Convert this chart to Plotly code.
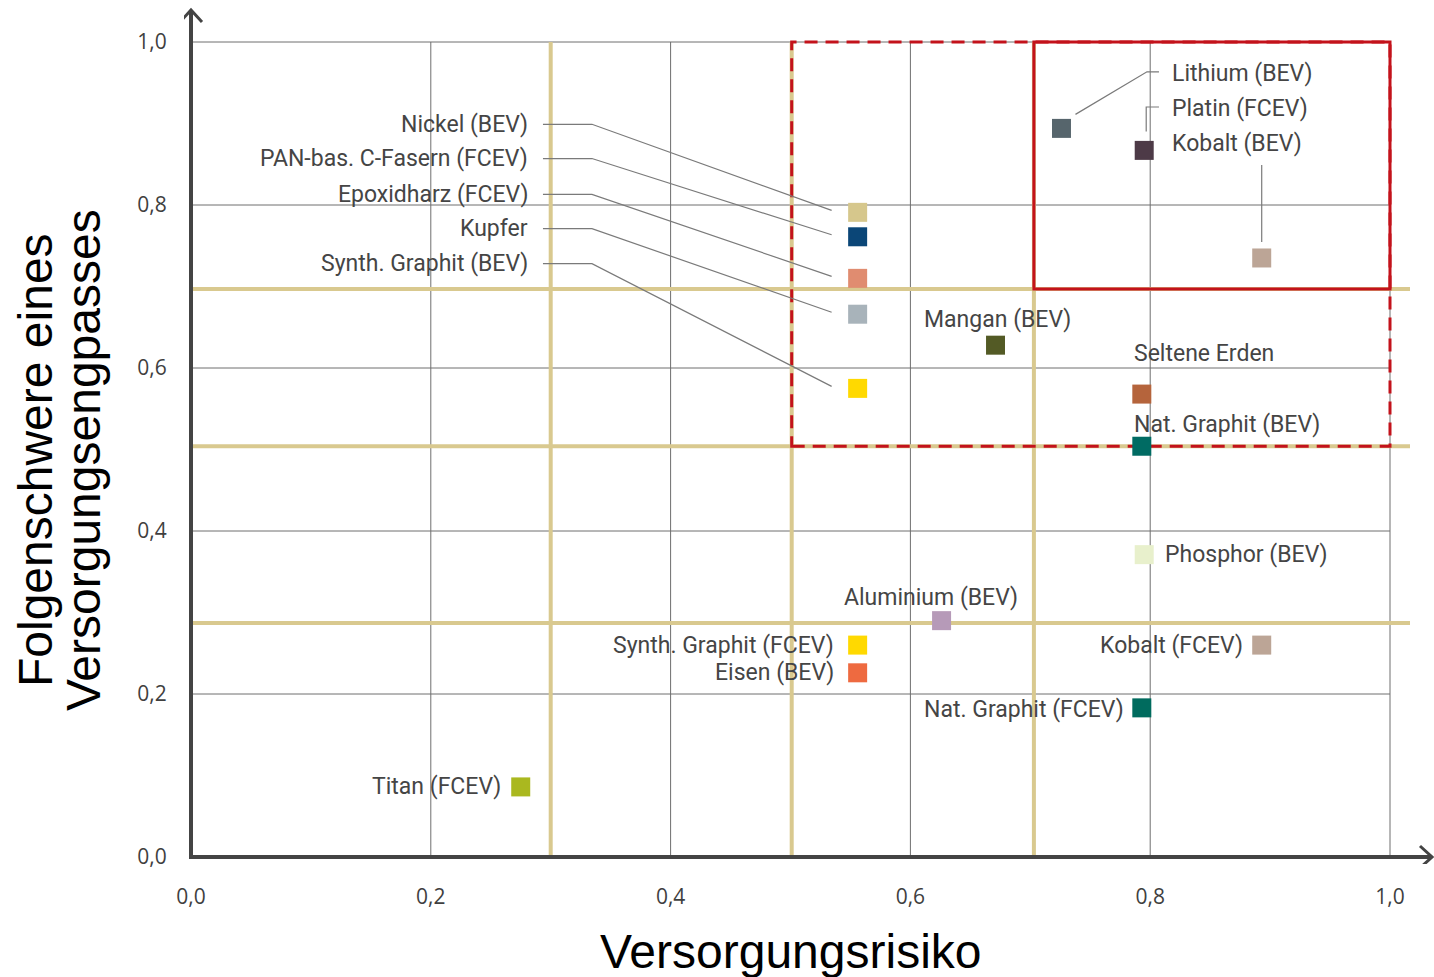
import plotly.graph_objects as go

# ---------------- data ----------------
materials = [
    "Lithium (BEV)", "Platin (FCEV)", "Kobalt (BEV)",
    "Nickel (BEV)", "PAN-bas. C-Fasern (FCEV)", "Epoxidharz (FCEV)", "Kupfer", "Synth. Graphit (BEV)",
    "Mangan (BEV)", "Seltene Erden", "Nat. Graphit (BEV)", "Phosphor (BEV)", "Aluminium (BEV)",
    "Synth. Graphit (FCEV)", "Eisen (BEV)", "Kobalt (FCEV)", "Nat. Graphit (FCEV)", "Titan (FCEV)",
]
versorgungsrisiko = [0.726, 0.795, 0.893,
                     0.556, 0.556, 0.556, 0.556, 0.556,
                     0.671, 0.793, 0.793, 0.795, 0.626,
                     0.556, 0.556, 0.893, 0.793, 0.275]
folgenschwere = [0.894, 0.867, 0.735,
                 0.791, 0.761, 0.710, 0.666, 0.575,
                 0.628, 0.568, 0.504, 0.371, 0.290,
                 0.260, 0.226, 0.260, 0.183, 0.086]
colors = ["#56656c", "#4d3a47", "#bca596",
          "#d6c78c", "#0b4677", "#e08c70", "#a8b3ba", "#ffd900",
          "#535a25", "#b5643c", "#006b63", "#e8f0cc", "#b69ab8",
          "#ffd900", "#ee6a40", "#bca596", "#006b5e", "#aab81f"]

tick_values = [0.0, 0.2, 0.4, 0.6, 0.8, 1.0]
tick_labels = ["0,0", "0,2", "0,4", "0,6", "0,8", "1,0"]
threshold_x = [0.3, 0.501, 0.703]
threshold_y = [0.287, 0.504, 0.697]
critical_zone = [0.501, 0.504, 1.0, 1.0]
high_critical_zone = [0.703, 0.697, 1.0, 1.0]

x_title = "Versorgungsrisiko"
y_title_lines = ["Folgenschwere eines", "Versorgungsengpasses"]

# ---------------- layout geometry ----------------
W, H = 1434, 977
X0PX, XS = 191, 1199      # pixel of x=0, pixels per unit
Y0PX, YS = 857, 815       # pixel of y=0, pixels per unit
PL, PR, PT, PB = 184, 1434, 4, 864
xmin, xmax = (PL - X0PX) / XS, (PR - X0PX) / XS
ymin, ymax = (Y0PX - PB) / YS, (Y0PX - PT) / YS


def dx(px):
    return px / XS


def dy(px):
    return px / YS


def paper_x(px):
    return (px - PL) / (PR - PL)


def paper_y(py):
    return (PB - py) / (PB - PT)


idx = {m: i for i, m in enumerate(materials)}

# label placement (layout only)
left_stack = ["Nickel (BEV)", "PAN-bas. C-Fasern (FCEV)", "Epoxidharz (FCEV)", "Kupfer", "Synth. Graphit (BEV)"]
left_stack_y = [0.899, 0.857, 0.813, 0.771, 0.728]
left_label_x = 0.2827
right_stack = ["Lithium (BEV)", "Platin (FCEV)", "Kobalt (BEV)"]
right_stack_y = [0.961, 0.919, 0.876]
right_label_x = 0.8165
direct = {  # name: (xanchor, xshift px, yshift px)
    "Mangan (BEV)": ("center", 2, 26),
    "Seltene Erden": ("left", -10, 41),
    "Nat. Graphit (BEV)": ("left", -10, 22),
    "Phosphor (BEV)": ("left", 19, 0),
    "Aluminium (BEV)": ("center", -11, 23),
    "Synth. Graphit (FCEV)": ("right", -22, 0),
    "Eisen (BEV)": ("right", -22, 0),
    "Kobalt (FCEV)": ("right", -17, 0),
    "Nat. Graphit (FCEV)": ("right", -16, -2),
    "Titan (FCEV)": ("right", -18, 0),
}

GRID = "#6e6e6e"
TAN = "#d9c98f"
RED = "#c3121b"
AXIS = "#444444"
LEAD = "#7a7a7a"
LABEL_FONT = dict(family="Roboto, Arial, sans-serif", size=23, color="#454545")

fig = go.Figure()

fig.add_trace(go.Scatter(
    x=versorgungsrisiko, y=folgenschwere, mode="markers",
    marker=dict(symbol="square", size=19, color=colors, line=dict(width=0)),
    text=materials, hoverinfo="text", showlegend=False, cliponaxis=False,
))

shapes = []
# grid
for v in tick_values[1:]:
    shapes.append(dict(type="line", xref="x", yref="y", x0=v, x1=v, y0=0, y1=1.0,
                       line=dict(color=GRID, width=1), layer="below"))
    shapes.append(dict(type="line", xref="x", yref="y", x0=0, x1=1.0, y0=v, y1=v,
                       line=dict(color=GRID, width=1), layer="below"))
# thresholds
for v in threshold_x:
    shapes.append(dict(type="line", xref="x", yref="y", x0=v, x1=v, y0=0, y1=1.0,
                       line=dict(color=TAN, width=4), layer="below"))
for v in threshold_y:
    shapes.append(dict(type="line", xref="x", yref="y", x0=0, x1=1.0 + dx(20), y0=v, y1=v,
                       line=dict(color=TAN, width=4), layer="below"))
# critical zones
shapes.append(dict(type="rect", xref="x", yref="y",
                   x0=critical_zone[0], y0=critical_zone[1], x1=critical_zone[2], y1=critical_zone[3],
                   line=dict(color=RED, width=3, dash="13px,8px"), layer="below"))
shapes.append(dict(type="rect", xref="x", yref="y",
                   x0=high_critical_zone[0], y0=high_critical_zone[1], x1=high_critical_zone[2], y1=high_critical_zone[3],
                   line=dict(color=RED, width=3), layer="below"))

annotations = []
# left stacked labels with leader lines
for name, ly in zip(left_stack, left_stack_y):
    i = idx[name]
    px, py = versorgungsrisiko[i], folgenschwere[i]
    annotations.append(dict(x=left_label_x, y=ly, xref="x", yref="y", text=name, showarrow=False,
                            xanchor="right", yanchor="middle", font=LABEL_FONT))
    x_start = left_label_x + dx(13)
    x_bend = x_start + dx(49)
    x_end = px - dx(26)
    shapes.append(dict(type="path", xref="x", yref="y",
                       path=f"M {x_start},{ly} L {x_bend},{ly} L {x_end},{py + dy(2)}",
                       line=dict(color=LEAD, width=1.2), layer="below"))

# right stacked labels
for name, ly in zip(right_stack, right_stack_y):
    annotations.append(dict(x=right_label_x, y=ly, xref="x", yref="y", text=name, showarrow=False,
                            xanchor="left", yanchor="middle", font=LABEL_FONT))

i = idx["Lithium (BEV)"]
ly = right_stack_y[0] + dy(2)
shapes.append(dict(type="path", xref="x", yref="y",
                   path=(f"M {right_label_x - dx(11)},{ly} L {right_label_x - dx(23)},{ly} "
                         f"L {versorgungsrisiko[i] + dx(14)},{folgenschwere[i] + dy(14)}"),
                   line=dict(color=LEAD, width=1.2), layer="below"))
i = idx["Platin (FCEV)"]
ly = right_stack_y[1] + dy(1)
shapes.append(dict(type="path", xref="x", yref="y",
                   path=(f"M {right_label_x - dx(11)},{ly} L {versorgungsrisiko[i] + dx(2)},{ly} "
                         f"L {versorgungsrisiko[i] + dx(2)},{folgenschwere[i] + dy(19)}"),
                   line=dict(color=LEAD, width=1.2), layer="below"))
i = idx["Kobalt (BEV)"]
shapes.append(dict(type="line", xref="x", yref="y",
                   x0=versorgungsrisiko[i], x1=versorgungsrisiko[i],
                   y0=right_stack_y[2] - dy(22), y1=folgenschwere[i] + dy(16),
                   line=dict(color=LEAD, width=1.2), layer="below"))

# direct labels
for name, (xa, xs, ys) in direct.items():
    i = idx[name]
    annotations.append(dict(x=versorgungsrisiko[i], y=folgenschwere[i], xref="x", yref="y",
                            text=name, showarrow=False, xanchor=xa, yanchor="middle",
                            xshift=xs, yshift=ys, font=LABEL_FONT))

# axes with arrows
tip_y = (Y0PX - 10) / YS
tip_x = (1432 - X0PX) / XS
shapes.append(dict(type="line", xref="x", yref="y", x0=0, x1=0, y0=-dy(2), y1=tip_y - dy(1),
                   line=dict(color=AXIS, width=4), layer="above"))
shapes.append(dict(type="path", xref="x", yref="y",
                   path=f"M {-dx(11)},{tip_y - dy(12)} L 0,{tip_y} L {dx(11)},{tip_y - dy(12)}",
                   line=dict(color=AXIS, width=3), layer="above"))
shapes.append(dict(type="line", xref="x", yref="y", x0=-dx(2), x1=tip_x - dx(1), y0=0, y1=0,
                   line=dict(color=AXIS, width=4), layer="above"))
shapes.append(dict(type="path", xref="x", yref="y",
                   path=f"M {tip_x - dx(12)},{dy(11)} L {tip_x},0 L {tip_x - dx(12)},{-dy(11)}",
                   line=dict(color=AXIS, width=3), layer="above"))

# axis titles (paper coordinates so they are not hidden outside the axis range)
TITLE_FONT = dict(family="Liberation Sans, Arial, sans-serif", size=48, color="#000000")
annotations.append(dict(x=paper_x(791), y=paper_y(951), xref="paper", yref="paper", text=x_title,
                        showarrow=False, xanchor="center", yanchor="middle", font=TITLE_FONT))
for k, line_txt in enumerate(y_title_lines):
    annotations.append(dict(x=paper_x(36 + 48 * k), y=paper_y(460), xref="paper", yref="paper",
                            text=line_txt, textangle=-90, showarrow=False,
                            xanchor="center", yanchor="middle", font=TITLE_FONT))

TICK_FONT = dict(family="Open Sans, Noto Sans, sans-serif", size=21, color="#3f3f3f")
fig.update_layout(
    width=W, height=H, autosize=False,
    margin=dict(l=PL, r=W - PR, t=PT, b=H - PB, pad=0),
    paper_bgcolor="white", plot_bgcolor="white",
    shapes=shapes, annotations=annotations,
    xaxis=dict(range=[xmin, xmax], tickvals=tick_values, ticktext=tick_labels,
               showgrid=False, zeroline=False, showline=False,
               ticks="outside", ticklen=14, tickcolor="rgba(0,0,0,0)",
               tickfont=TICK_FONT, fixedrange=True),
    yaxis=dict(range=[ymin, ymax], tickvals=tick_values, ticktext=tick_labels,
               showgrid=False, zeroline=False, showline=False,
               ticks="outside", ticklen=12, tickcolor="rgba(0,0,0,0)",
               tickfont=TICK_FONT, fixedrange=True),
    hovermode="closest",
)

fig.write_html("out.html", config={"displayModeBar": False},
               post_script="document.body.style.margin='0';")
